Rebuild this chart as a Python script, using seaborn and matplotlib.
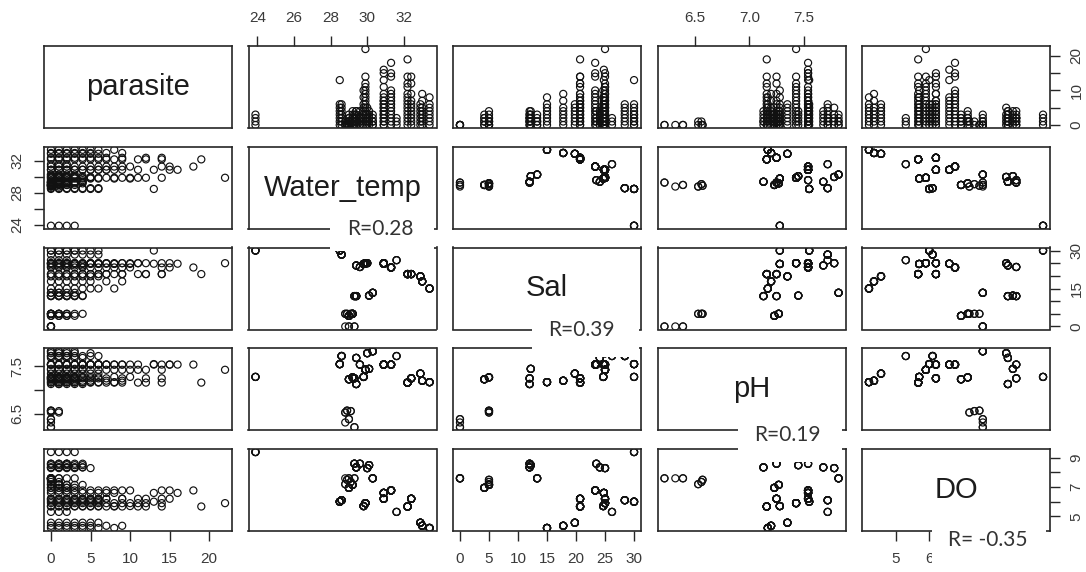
import numpy as np
import pandas as pd
import matplotlib
matplotlib.use("Agg")
import matplotlib.pyplot as plt
from matplotlib.patches import Rectangle
import seaborn as sns

sns.set_style("white")
plt.rcParams["font.family"] = ["Liberation Sans", "DejaVu Sans"]

# Sampling sites: water quality measured once per site
water_temp = [29.3, 28.8, 29.0, 28.8, 28.9, 29.1, 29.0, 29.2, 29.4, 29.3,
              30.1, 30.3, 33.4, 33.0, 32.9, 32.2, 32.4, 31.3, 30.9, 29.9,
              30.9, 29.8, 31.6, 29.4, 30.0, 29.6, 23.9, 28.5, 28.6]
sal = [0, 0, 0, 5, 5, 5, 4.2, 5.0, 12, 12,
       12.2, 13.3, 15, 17.8, 19.8, 20.7, 20.7, 23.3, 24.8, 25.0,
       25.0, 24.7, 26.2, 24.1, 25.0, 23.5, 30, 30, 28.4]
ph = [6.22, 6.32, 6.39, 6.53, 6.57, 6.56, 7.23, 7.27, 7.13, 7.25,
      7.45, 7.82, 7.17, 7.20, 7.35, 7.16, 7.25, 7.54, 7.54, 7.43,
      7.54, 7.28, 7.72, 7.68, 7.78, 7.54, 7.28, 7.55, 7.72]
do = [7.6, 7.6, 7.6, 7.2, 7.5, 7.35, 6.95, 7.15, 8.35, 8.6,
      8.5, 7.6, 4.2, 4.35, 4.56, 5.67, 6.2, 6.77, 6.6, 5.9,
      6.2, 5.7, 5.3, 8.35, 8.3, 8.6, 9.4, 6.0, 6.1]

# Parasite counts of the fish examined at each site
parasite_counts = [
    [0, 0], [0], [0, 0], [0, 1], [0, 0], [1, 0],
    [0, 1, 2, 3, 1, 2, 0], [0, 1, 2, 3, 4, 2, 1],
    [0, 1, 2, 3, 4, 1], [0, 1, 2, 2, 3], [1, 2, 3, 4, 0], [0, 1, 2, 1, 0, 3],
    [0, 1, 2, 3, 4, 5, 6, 8], [0, 1, 2, 3, 4, 5, 7, 9], [0, 1, 2, 3, 4, 5, 6],
    [0, 1, 2, 3, 4, 5, 6, 7, 8, 9, 11, 12, 14, 19],
    [0, 1, 2, 3, 4, 5, 6, 7, 9, 12, 14],
    [0, 1, 2, 3, 4, 5, 6, 7, 8, 9, 10, 14, 15, 18],
    [0, 1, 2, 3, 4, 5, 6, 7, 8, 13, 16],
    [0, 1, 2, 3, 4, 5, 6, 7, 8, 9, 10, 11, 12, 14, 22],
    [0, 1, 2, 3, 4, 5, 6, 7, 9, 11, 15],
    [0, 1, 2, 3, 4, 5, 6, 8, 10],
    [0, 1, 2], [0, 1, 2, 3, 4], [0, 1, 2, 3, 5], [0, 1, 2, 4],
    [0, 1, 2, 3], [0, 1, 2, 3, 4, 5, 6, 13], [0, 1, 2, 3, 4, 5, 6],
]

variables = ["parasite", "Water_temp", "Sal", "pH", "DO"]
r_labels = ["R=0.28", "R=0.39", "R=0.19", "R= -0.35"]

# Tick positions and which of them carry a label (x axis / y axis)
ticks = {
    "parasite": [0, 5, 10, 15, 20],
    "Water_temp": [24, 26, 28, 30, 32],
    "Sal": [0, 5, 10, 15, 20, 25, 30],
    "pH": [6.5, 7.0, 7.5],
    "DO": [5, 6, 7, 8, 9],
}
x_ticklabels = {
    "parasite": ["0", "5", "10", "15", "20"],
    "Water_temp": ["24", "26", "28", "30", "32"],
    "Sal": ["0", "5", "10", "15", "20", "25", "30"],
    "pH": ["6.5", "7.0", "7.5"],
    "DO": ["5", "6", "7", "8", "9"],
}
y_ticklabels = {
    "parasite": ["0", "", "10", "", "20"],
    "Water_temp": ["24", "", "28", "", "32"],
    "Sal": ["0", "", "", "15", "", "", "30"],
    "pH": ["6.5", "", "7.5"],
    "DO": ["5", "", "7", "", "9"],
}

# One row per fish, carrying its site's water quality
rows = []
for k, counts in enumerate(parasite_counts):
    for c in counts:
        rows.append({"parasite": c, "Water_temp": water_temp[k], "Sal": sal[k],
                     "pH": ph[k], "DO": do[k]})
df = pd.DataFrame(rows)


def padded_range(v):
    lo, hi = float(np.min(v)), float(np.max(v))
    pad = 0.04 * (hi - lo)
    return lo - pad, hi + pad


limits = {v: padded_range(df[v]) for v in variables}

W, H = 1086, 572
fig = plt.figure(figsize=(W / 100, H / 100), dpi=100)
fig.patch.set_facecolor("white")

pw, ph_ = 188, 82
lefts = [44 + k * 204.5 for k in range(5)]
tops = [46 + k * 100.75 for k in range(5)]

ink = "#262626"
label_col = "#3a3a3a"

for i, rv in enumerate(variables):
    for j, cv in enumerate(variables):
        ax = fig.add_axes([lefts[j] / W, 1 - (tops[i] + ph_) / H, pw / W, ph_ / H])
        ax.set_facecolor("white")
        if i != j:
            sns.scatterplot(data=df, x=cv, y=rv, ax=ax, marker="o", s=26,
                            facecolor="none", edgecolor="#111111",
                            linewidth=0.85, legend=False)
        else:
            ax.text(0.5, 0.5, rv, transform=ax.transAxes, ha="center",
                    va="center", fontsize=21, color="#1c1c1c",
                    family=["Liberation Sans", "DejaVu Sans"])
        ax.set_xlim(limits[cv])
        ax.set_ylim(limits[rv])
        ax.set_xlabel("")
        ax.set_ylabel("")
        for sp in ax.spines.values():
            sp.set_visible(True)
            sp.set_color(ink)
            sp.set_linewidth(1.2)

        show_top = (i == 0 and j % 2 == 1)
        show_bottom = (i == 4 and j % 2 == 0)
        show_left = (j == 0 and i % 2 == 1)
        show_right = (j == 4 and i % 2 == 0)

        if show_top or show_bottom:
            ax.set_xticks(ticks[cv])
            ax.set_xticklabels(x_ticklabels[cv])
        else:
            ax.set_xticks([])
        if show_left or show_right:
            ax.set_yticks(ticks[rv])
            ax.set_yticklabels(y_ticklabels[rv])
        else:
            ax.set_yticks([])

        ax.tick_params(axis="x", top=show_top, labeltop=show_top,
                       bottom=show_bottom, labelbottom=show_bottom,
                       direction="out", length=7, width=1.0, color=ink,
                       pad=8, labelsize=11, labelcolor=label_col)
        ax.tick_params(axis="y", left=show_left, labelleft=show_left,
                       right=show_right, labelright=show_right,
                       direction="out", length=7, width=1.0, color=ink,
                       pad=7, labelsize=11, labelcolor=label_col,
                       labelrotation=90)
        for lab in ax.get_yticklabels():
            lab.set_va("center")

# Correlation notes on white panels
r_boxes = [(330, 224, 434, 251), (532, 326, 639, 357),
           (738, 429, 842, 462), (932, 527, 1046, 572)]
r_centers = [(380, 229), (581, 330), (787, 435), (988, 540)]
for (x0, y0, x1, y1), (cx, cy), txt in zip(r_boxes, r_centers, r_labels):
    fig.add_artist(Rectangle((x0 / W, 1 - y1 / H), (x1 - x0) / W, (y1 - y0) / H,
                             transform=fig.transFigure, facecolor="white",
                             edgecolor="none", zorder=10))
    fig.text(cx / W, 1 - cy / H, txt, ha="center", va="center", fontsize=15,
             color="#333333", family=["Lato", "DejaVu Sans"], zorder=11)

fig.savefig("out.png", dpi=100, facecolor="white")
